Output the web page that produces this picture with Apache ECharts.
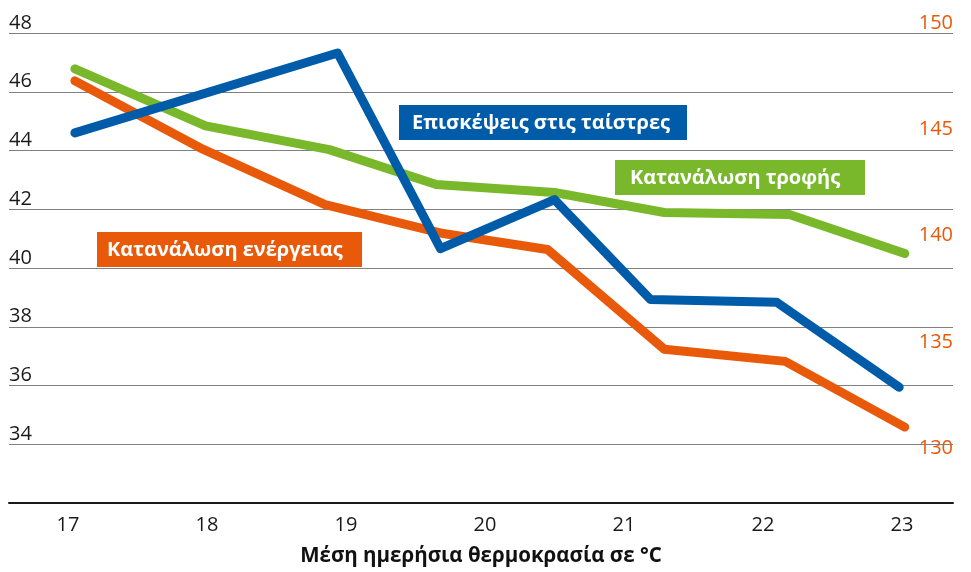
<!DOCTYPE html>
<html>
<head>
    <meta charset="utf-8">
    <title>Θερμοκρασία και ταίστρες</title>
    <script src="https://cdn.jsdelivr.net/npm/echarts@6/dist/echarts.min.js"></script>
    <style>
        html, body { margin: 0; padding: 0; background: #fff; }
    </style>
</head>
<body>
    <div id="main" style="width:971px;height:572px;"></div>
    <script type="text/javascript">
        // τιμές διαβασμένες από το γράφημα
        var xTicks = [17, 18, 19, 20, 21, 22, 23];
        var leftTicks = [34, 36, 38, 40, 42, 44, 46, 48];
        var rightTicks = [130, 135, 140, 145, 150];

        // Επισκέψεις στις ταίστρες (αριστερός άξονας)
        var blueX = [17.05, 18.94, 19.68, 20.50, 21.19, 22.10, 22.98];
        var blueY = [44.6, 47.32, 40.66, 42.33, 38.93, 38.83, 35.94];
        // Κατανάλωση τροφής (αριστερός άξονας)
        var greenX = [17.05, 17.99, 18.88, 19.65, 20.50, 21.29, 22.19, 23.02];
        var greenY = [46.78, 44.84, 44.03, 42.84, 42.57, 41.89, 41.82, 40.49];
        // Κατανάλωση ενέργειας (δεξιός άξονας)
        var orangeX = [17.05, 17.95, 18.85, 19.70, 20.45, 21.29, 22.16, 23.02];
        var orangeY = [147.75, 144.6, 141.93, 140.57, 139.82, 135.13, 134.56, 131.47];

        var BLUE = '#005ca9';
        var GREEN = '#78b82a';
        var ORANGE = '#e85a0a';
        var FONT = 'Open Sans';

        function pairs(xs, ys) {
            var out = [];
            for (var i = 0; i < xs.length; i++) {
                out.push([xs[i], ys[i]]);
            }
            return out;
        }

        function lineSeries(name, color, xs, ys, yIdx) {
            return {
                name: name,
                type: 'line',
                yAxisIndex: yIdx,
                data: pairs(xs, ys),
                showSymbol: false,
                silent: true,
                lineStyle: { color: color, width: 9, cap: 'round', join: 'round' }
            };
        }

        function labelBox(text, color, x, y, w, h, pad) {
            return {
                type: 'group',
                x: x,
                y: y,
                z: 100,
                children: [
                    { type: 'rect', shape: { x: 0, y: 0, width: w, height: h }, style: { fill: color } },
                    {
                        type: 'text', x: pad, y: h / 2 + 1,
                        style: {
                            text: text, fill: '#fff',
                            font: 'bold 20px "' + FONT + '"',
                            verticalAlign: 'middle', align: 'left'
                        }
                    }
                ]
            };
        }

        var myChart = echarts.init(document.getElementById('main'));

        var option = {
            animation: false,
            grid: { left: 9, right: 18, top: 33, bottom: 68 },
            xAxis: {
                type: 'value',
                min: 16.576,
                max: 23.367,
                name: 'Μέση ημερήσια θερμοκρασία σε °C',
                nameLocation: 'middle',
                nameGap: 43,
                nameTextStyle: { color: '#111', fontSize: 20.5, fontWeight: 'bold', fontFamily: FONT },
                axisLine: { show: true, lineStyle: { color: '#1a1a1a', width: 2 } },
                axisTick: { show: false },
                splitLine: { show: false },
                axisLabel: {
                    customValues: xTicks,
                    margin: 12,
                    color: '#1a1a1a',
                    fontSize: 20,
                    fontFamily: FONT
                }
            },
            yAxis: [
                {
                    type: 'value',
                    position: 'left',
                    min: 32,
                    max: 48,
                    interval: 2,
                    axisLine: { show: false },
                    axisTick: { show: false },
                    splitLine: { show: true, lineStyle: { color: '#808080', width: 1 } },
                    axisLabel: {
                        customValues: leftTicks,
                        inside: true,
                        margin: 0,
                        verticalAlign: 'bottom',
                        color: '#1a1a1a',
                        fontSize: 20,
                        fontFamily: FONT
                    }
                },
                {
                    type: 'value',
                    position: 'right',
                    min: 127.9,
                    max: 150,
                    axisLine: { show: false },
                    axisTick: { show: false },
                    splitLine: { show: false },
                    axisLabel: {
                        customValues: rightTicks,
                        inside: true,
                        margin: 0,
                        verticalAlign: 'bottom',
                        color: ORANGE,
                        fontSize: 20,
                        fontFamily: FONT
                    }
                }
            ],
            series: [
                lineSeries('Κατανάλωση ενέργειας', ORANGE, orangeX, orangeY, 1),
                lineSeries('Κατανάλωση τροφής', GREEN, greenX, greenY, 0),
                lineSeries('Επισκέψεις στις ταίστρες', BLUE, blueX, blueY, 0)
            ],
            graphic: [
                labelBox('Επισκέψεις στις ταίστρες', BLUE, 399, 105, 288, 35, 13),
                labelBox('Κατανάλωση τροφής', GREEN, 615, 160, 250, 35, 15),
                labelBox('Κατανάλωση ενέργειας', ORANGE, 97, 232, 265, 35, 10)
            ]
        };

        myChart.setOption(option);
    </script>
</body>
</html>
